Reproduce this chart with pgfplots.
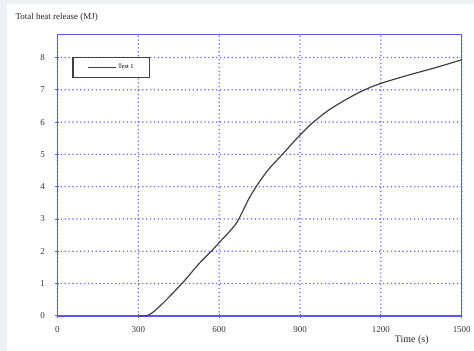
\documentclass[border=0pt]{standalone}
\usepackage{pgfplots}
\pgfplotsset{compat=1.18}
\usepackage{fontspec}
\setmainfont{Liberation Serif}
\definecolor{axblue}{RGB}{90,90,235}
\definecolor{gridblue}{RGB}{110,110,240}
\definecolor{bggray}{RGB}{238,240,243}
\definecolor{lblgray}{RGB}{55,55,55}
\begin{document}
\begin{tikzpicture}[x=1bp,y=1bp]
\fill[bggray] (0,0) rectangle (474,351);
\fill[white] (7,0) rectangle (474,347);
\begin{axis}[
  at={(57.5bp,35bp)}, anchor=south west,
  scale only axis, width=404.5bp, height=281.7bp,
  xmin=0, xmax=1500, ymin=0, ymax=8.72,
  xtick={0,300,600,900,1200,1500},
  ytick={0,1,2,3,4,5,6,7,8},
  axis line style={axblue, line width=1.4pt},
  tick style={axblue, line width=0.8pt},
  tick align=center, major tick length=4bp,
  xtick pos=bottom, ytick pos=left,
  grid=major,
  major grid style={gridblue, line width=1.7pt, line cap=round, dash pattern=on 0pt off 3.9pt},
  ticklabel style={font=\fontsize{9}{10}\selectfont, text=lblgray},
  /pgf/number format/assume math mode=true,
  /pgf/number format/1000 sep={},
  xticklabel style={yshift=-5bp},
  yticklabel style={xshift=-7bp},
  legend style={at={(0.037,0.92)}, anchor=north west, draw=black!75, line width=1.2pt,
    font=\fontsize{6.5}{7}\selectfont, inner xsep=14bp, inner ysep=5bp},
  legend image code/.code={\draw[#1] (0bp,0bp) -- (28bp,0bp);},
  legend cell align=left,
  clip=false,
]
\addplot[black!75, line width=1.2pt, smooth, tension=0.5] coordinates {
(300,0) (340,0.03) (390,0.38) (465,1.03) (528,1.64) (571,2.0) (598,2.25) (633,2.56)
(664,2.87) (685,3.2) (713,3.67) (750,4.16) (787,4.57) (839,5.04) (900,5.6) (947,5.98)
(1008,6.38) (1071,6.7) (1132,6.97) (1197,7.19) (1300,7.45) (1400,7.68) (1500,7.93)
};
\addlegendentry{Test 1}
\end{axis}
\node[anchor=west, font=\fontsize{9}{10}\selectfont, text=black!85] at (12,334) {Total heat release (MJ)};
\node[font=\fontsize{10}{11}\selectfont, text=black!85] at (412,11) {Time (s)};
\end{tikzpicture}
\end{document}
